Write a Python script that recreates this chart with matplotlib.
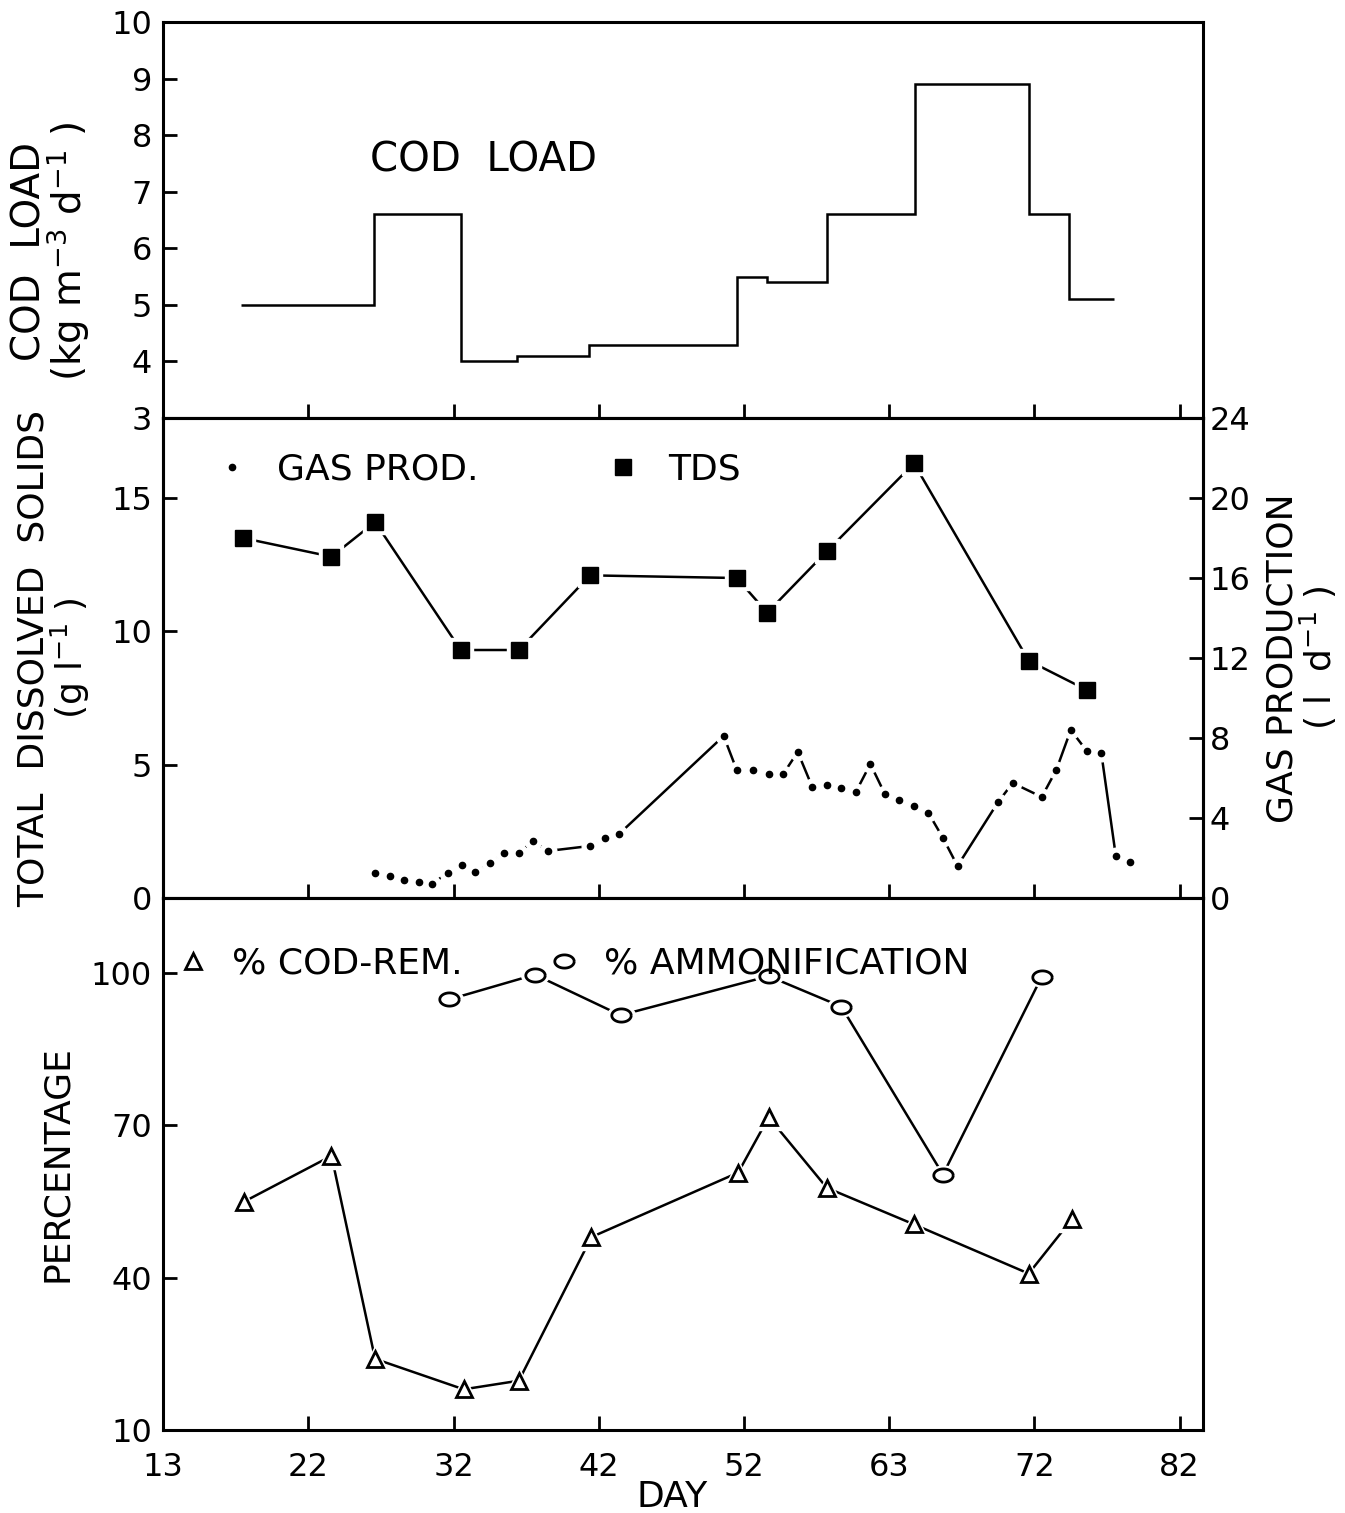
import numpy as np
import matplotlib
matplotlib.use("Agg")
import matplotlib.pyplot as plt

# evenly spaced day axis; the printed labels are not evenly spaced
day_ticks = [13, 23, 33, 43, 53, 63, 73, 83]
day_labels = ['13', '22', '32', '42', '52', '63', '72', '82']

# COD load step profile (kg m-3 d-1)
cod_edges = [18.4, 27.5, 33.5, 37.4, 42.3, 52.5, 54.6, 58.7, 64.8, 72.6, 75.4, 78.5]
cod_load = [5.0, 6.6, 4.0, 4.1, 4.3, 5.5, 5.4, 6.6, 8.9, 6.6, 5.1]

# total dissolved solids (g l-1)
tds_day = [18.5, 24.6, 27.6, 33.5, 37.5, 42.4, 52.5, 54.6, 58.7, 64.7, 72.6, 76.6]
tds = [13.5, 12.8, 14.1, 9.3, 9.3, 12.1, 12.0, 10.7, 13.0, 16.3, 8.9, 7.8]

# gas production (l d-1)
gas_day = [27.6, 28.6, 29.6, 30.6, 31.5, 32.6, 33.6, 34.5, 35.5, 36.5,
           37.5, 38.5, 39.5, 42.4, 43.4, 44.4, 51.6, 52.5, 53.6, 54.7,
           55.7, 56.7, 57.7, 58.7, 59.7, 60.7, 61.7, 62.7, 63.7, 64.7,
           65.7, 66.7, 67.7, 70.5, 71.5, 73.5, 74.5, 75.5, 76.6, 77.6,
           78.6, 79.6]
gas = [1.25, 1.1, 0.9, 0.8, 0.7, 1.25, 1.65, 1.3, 1.75, 2.25,
       2.25, 2.85, 2.35, 2.6, 3.0, 3.2, 8.1, 6.4, 6.4, 6.2,
       6.2, 7.3, 5.55, 5.65, 5.5, 5.3, 6.7, 5.2, 4.9, 4.6,
       4.25, 3.0, 1.6, 4.8, 5.75, 5.05, 6.4, 8.4, 7.35, 7.25,
       2.1, 1.8]

# % COD removal and % ammonification
rem_day = [18.6, 24.6, 27.6, 33.7, 37.5, 42.5, 52.6, 54.7, 58.7, 64.7, 72.6, 75.6]
rem = [55, 64, 24, 18, 19.7, 48, 60.7, 71.6, 57.7, 50.5, 40.8, 51.6]
amm_day = [32.7, 38.6, 44.5, 54.7, 59.7, 66.7, 73.5]
amm = [94.8, 99.7, 91.7, 99.4, 93.4, 60.3, 99.3]

LW = 1.8
SP = 2.2
TS = 23
LS = 26

fig = plt.figure(figsize=(13.45, 15.13), dpi=100)
L, W = 0.1212, 0.7732
ax1 = fig.add_axes([L, 0.7237, W, 0.2617])
ax2 = fig.add_axes([L, 0.4065, W, 0.3172])
ax3 = fig.add_axes([L, 0.0549, W, 0.3516])

# oval marker like the plotter's circles
t = np.linspace(0, 2 * np.pi, 40)
oval = np.column_stack([np.cos(t), 0.68 * np.sin(t)])

for ax in (ax1, ax2, ax3):
    ax.set_xlim(13, 84.6)
    ax.set_xticks(day_ticks)
    for s in ax.spines.values():
        s.set_linewidth(SP)
    ax.tick_params(direction='in', length=10, width=2, labelsize=TS)
    ax.tick_params(axis='y', pad=8)
    ax.tick_params(axis='x', pad=16)

# --- top panel: COD load
ax1.stairs(cod_load, cod_edges, baseline=None, color='black', lw=LW)
ax1.set_ylim(3, 10)
ax1.set_yticks(range(3, 11))
ax1.tick_params(labelbottom=False)
ax1.set_ylabel("COD  LOAD\n(kg m$^{-3}$ d$^{-1}$ )", fontsize=28, linespacing=0.9)
ax1.yaxis.set_label_coords(-0.068, 0.42)
ax1.text(0.199, 0.65, "COD  LOAD", transform=ax1.transAxes, fontsize=29,
         va='center', ha='left')

# --- middle panel: TDS and gas
ax2.set_ylim(0, 18)
ax2.set_yticks([0, 5, 10, 15])
ax2.tick_params(labelbottom=False)
ax2.plot(tds_day, tds, color='black', lw=LW)
ax2.plot(tds_day, tds, ls='none', marker='s', ms=17, color='white')
tds_pts, = ax2.plot(tds_day, tds, ls='none', marker='s', ms=11, color='black')
ax2.set_ylabel("TOTAL  DISSOLVED  SOLIDS\n(g l$^{-1}$ )", fontsize=LS, linespacing=0.95)
ax2.yaxis.set_label_coords(-0.068, 0.5)

ax2r = ax2.twinx()
ax2r.set_ylim(0, 24)
ax2r.set_yticks(range(0, 25, 4))
for s in ax2r.spines.values():
    s.set_linewidth(SP)
ax2r.tick_params(direction='in', length=10, width=2, labelsize=TS, pad=5)
ax2r.plot(gas_day, gas, color='black', lw=LW)
ax2r.plot(gas_day, gas, ls='none', marker='o', ms=12, color='white')
gas_pts, = ax2r.plot(gas_day, gas, ls='none', marker='o', ms=4.5, color='black')
ax2r.set_ylabel("GAS PRODUCTION\n( l  d$^{-1}$ )", fontsize=LS, linespacing=0.95)
ax2r.yaxis.set_label_coords(1.06, 0.5)

ax2.legend([gas_pts, tds_pts], ["GAS PROD.", "TDS"], loc='upper left',
           bbox_to_anchor=(0.018, 0.995), ncol=2, frameon=False, fontsize=LS,
           handlelength=1.0, handletextpad=0.75, columnspacing=3.5)

# --- bottom panel: percentages
ax3.plot(rem_day, rem, color='black', lw=LW)
ax3.plot(rem_day, rem, ls='none', marker='^', ms=19, color='white')
rem_pts, = ax3.plot(rem_day, rem, ls='none', marker='^', ms=12, mfc='white',
                    mec='black', mew=2)
ax3.plot(amm_day, amm, color='black', lw=LW)
ax3.plot(amm_day, amm, ls='none', marker=oval, ms=20, color='white')
amm_pts, = ax3.plot(amm_day, amm, ls='none', marker=oval, ms=14, mfc='white',
                    mec='black', mew=2)
ax3.set_ylim(10, 114.8)
ax3.set_yticks([10, 40, 70, 100])
ax3.set_xticklabels(day_labels)
ax3.set_ylabel("PERCENTAGE", fontsize=LS)
ax3.yaxis.set_label_coords(-0.086, 0.5)
ax3.set_xlabel("DAY", fontsize=LS)
ax3.xaxis.set_label_coords(0.49, -0.094)

ax3.legend([rem_pts, amm_pts], ["% COD-REM.", "% AMMONIFICATION"], loc='upper left',
           bbox_to_anchor=(-0.02, 0.97), ncol=2, frameon=False, fontsize=LS,
           handlelength=1.0, handletextpad=0.6, columnspacing=2.3)

plt.savefig("out.png", dpi=100)
